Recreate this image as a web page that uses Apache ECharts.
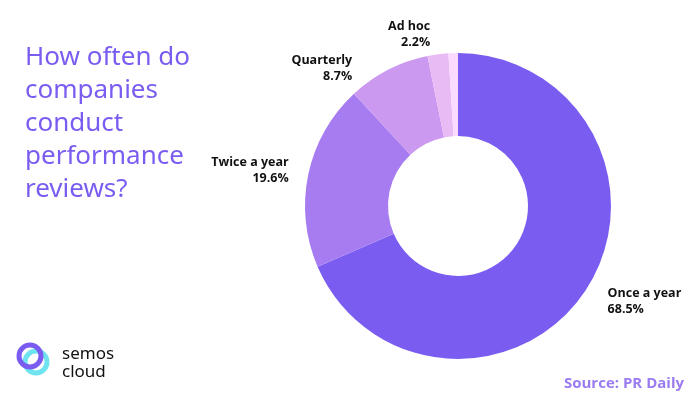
<!DOCTYPE html>
<html><head><meta charset="utf-8">
<script src="https://cdn.jsdelivr.net/npm/echarts@6/dist/echarts.min.js"></script>
<style>html,body{margin:0;padding:0;background:#fff}#c{width:700px;height:400px}</style>
</head><body><div id="c"></div>
<script>
const categories = ['Once a year','Twice a year','Quarterly','Ad hoc','Other'];
const values = [68.5, 19.6, 8.7, 2.2, 1.0];
const colors = ['#7B5CF0','#A77CF0','#CC99F0','#E9BBF5','#FADAFF'];
const showLabel = [true,true,true,true,false];
const chart = echarts.init(document.getElementById('c'));
chart.setOption({
  animation:false,
  title:{text:'How often do\ncompanies\nconduct\nperformance\nreviews?',left:20,top:36,
    textStyle:{color:'#7B5CF0',fontSize:26,fontWeight:'normal',fontFamily:'Noto Sans',lineHeight:33}},
  graphic:[
    {type:'circle',shape:{cx:36,cy:362,r:11},style:{fill:'none',stroke:'#6FE3F0',lineWidth:5}},
    {type:'circle',shape:{cx:30,cy:356,r:11},style:{fill:'none',stroke:'#7B5CF0',lineWidth:5}},
    {type:'text',left:62,top:345,style:{text:'semos\ncloud',fontSize:17,lineHeight:18,fill:'#111',fontFamily:'Noto Sans'}},
    {type:'text',right:16,top:376,style:{text:'Source: PR Daily',fontSize:15,fontWeight:'bold',fill:'#9B7BF0',fontFamily:'Open Sans'}}
  ],
  series:[{
    type:'pie',center:[458,206],radius:[70,153],startAngle:90,clockwise:true,
    label:{position:'outside',distance:26,formatter:p=>p.name+'\n'+p.value.toFixed(1)+'%',
      fontSize:12.5,fontWeight:'bold',color:'#111',lineHeight:16,fontFamily:'Open Sans',align:'center'},
    labelLine:{show:false,length:20,length2:0},
    data:categories.map((n,i)=>({name:n,value:values[i],itemStyle:{color:colors[i]},
      label:{show:showLabel[i]}}))
  }]
});
</script></body></html>
